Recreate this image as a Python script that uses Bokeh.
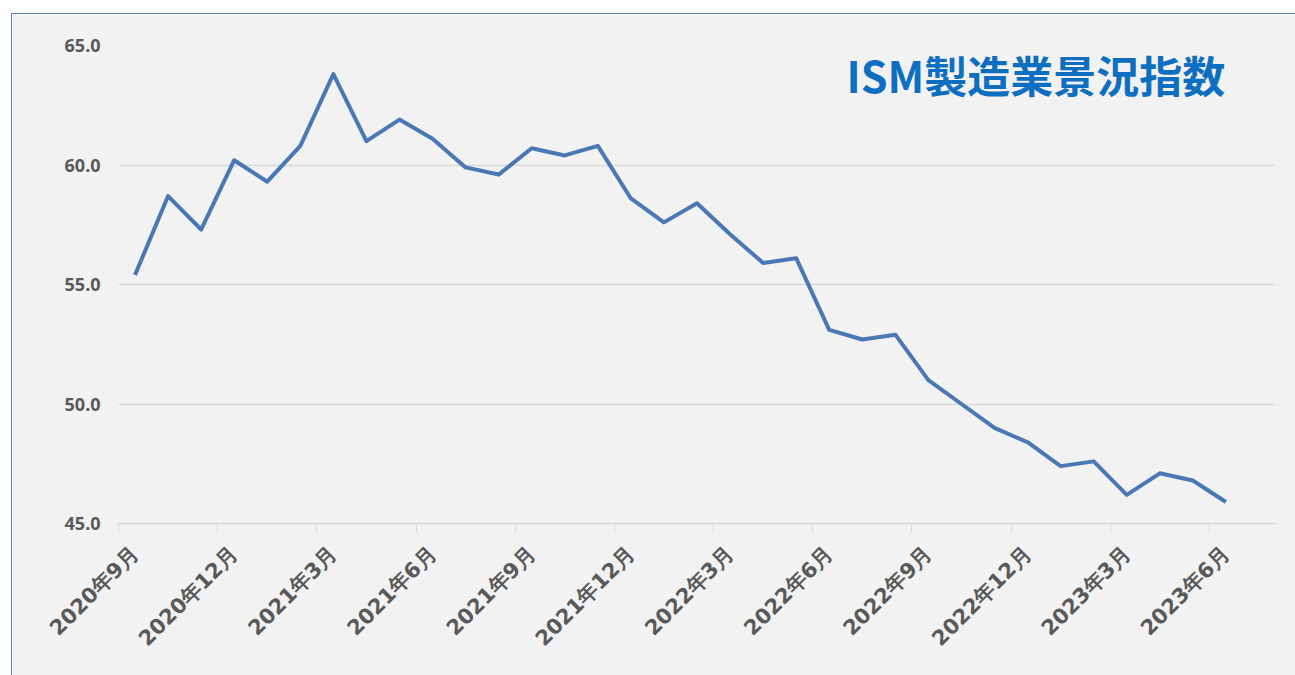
import math
from bokeh.plotting import figure
from bokeh.models import FixedTicker, NumeralTickFormatter, Label, Range1d
from bokeh.embed import file_html
from bokeh.resources import INLINE

# ---- data ----
months = [
    "2020年9月", "2020年10月", "2020年11月", "2020年12月",
    "2021年1月", "2021年2月", "2021年3月", "2021年4月", "2021年5月", "2021年6月",
    "2021年7月", "2021年8月", "2021年9月", "2021年10月", "2021年11月", "2021年12月",
    "2022年1月", "2022年2月", "2022年3月", "2022年4月", "2022年5月", "2022年6月",
    "2022年7月", "2022年8月", "2022年9月", "2022年10月", "2022年11月", "2022年12月",
    "2023年1月", "2023年2月", "2023年3月", "2023年4月", "2023年5月", "2023年6月",
]
ism_values = [
    55.4, 58.7, 57.3, 60.2, 59.3, 60.8, 63.8, 61.0, 61.9, 61.1,
    59.9, 59.6, 60.7, 60.4, 60.8, 58.6, 57.6, 58.4, 57.1, 55.9,
    56.1, 53.1, 52.7, 52.9, 51.0, 50.0, 49.0, 48.4, 47.4, 47.6,
    46.2, 47.1, 46.8, 45.9,
]
tick_labels = [
    "2020年9月", "2020年12月", "2021年3月", "2021年6月", "2021年9月", "2021年12月",
    "2022年3月", "2022年6月", "2022年9月", "2022年12月", "2023年3月", "2023年6月",
]
y_ticks = [45, 50, 55, 60, 65]
title_text = "ISM製造業景況指数"

n_slots = len(months) + 1  # one empty month slot at the right end
xs = [i + 0.5 for i in range(len(months))]
label_pos = [months.index(t) + 0.5 for t in tick_labels]
boundaries = [months.index(t) for t in tick_labels]

BG = "#f2f2f2"
GRID = "#d9d9d9"
LABEL = "#595959"

p = figure(
    width=1284, height=662,
    x_range=Range1d(0, n_slots), y_range=Range1d(45, 65),
    output_backend="svg", toolbar_location=None,
    min_border_left=106, min_border_right=21, min_border_top=31, min_border_bottom=153,
    background_fill_color=BG, border_fill_color=BG,
)
p.margin = (13, 0, 0, 11)
p.styles = {"border-left": "1px solid #5b7fbf", "border-top": "1px solid #5b7fbf"}
p.outline_line_color = None

p.line(xs, ism_values, line_color="#4a78b5", line_width=4, line_join="round")

# x axis
xa = p.xaxis[0]
xa.ticker = FixedTicker(ticks=label_pos, minor_ticks=boundaries)
xa.major_label_overrides = {pos: lab for pos, lab in zip(label_pos, tick_labels)}
xa.major_label_orientation = math.pi / 4
xa.major_tick_line_color = None
xa.major_tick_out = 0
xa.major_tick_in = 0
xa.minor_tick_line_color = GRID
xa.minor_tick_line_width = 1
xa.minor_tick_out = 9
xa.minor_tick_in = 0
xa.axis_line_color = GRID
xa.axis_line_width = 1.5
xa.major_label_text_font = "DejaVu Sans"
xa.major_label_text_font_size = "21px"
xa.major_label_text_font_style = "bold"
xa.major_label_text_color = LABEL
xa.major_label_standoff = 18

# y axis
ya = p.yaxis[0]
ya.ticker = FixedTicker(ticks=y_ticks)
ya.formatter = NumeralTickFormatter(format="0.0")
ya.axis_line_color = None
ya.major_tick_line_color = None
ya.minor_tick_line_color = None
ya.major_label_text_font = "Noto Sans"
ya.major_label_text_font_size = "18px"
ya.major_label_text_font_style = "bold"
ya.major_label_text_color = LABEL
ya.major_label_standoff = 12

p.xgrid.grid_line_color = None
p.ygrid.ticker = FixedTicker(ticks=y_ticks)
p.ygrid.grid_line_color = GRID
p.ygrid.grid_line_width = 1.5

title = Label(
    x=27.75, y=63.8, text=title_text,
    text_font="Noto Sans CJK JP", text_font_size="43px", text_font_style="bold",
    text_color="#0e6fc0", text_align="center", text_baseline="middle",
)
p.add_layout(title)

open("out.html", "w").write(file_html(p, INLINE))
